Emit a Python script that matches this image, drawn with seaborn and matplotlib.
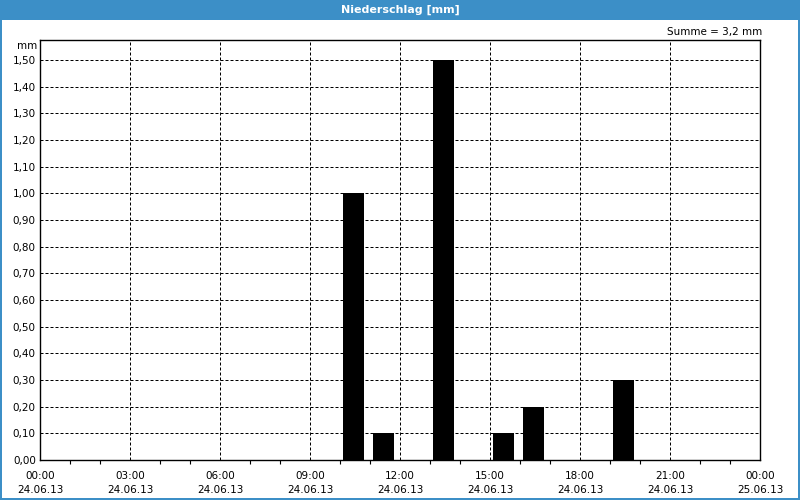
import numpy as np
import pandas as pd
import matplotlib
matplotlib.use("Agg")
import matplotlib.pyplot as plt
from matplotlib.patches import Rectangle
from matplotlib.ticker import FuncFormatter, MultipleLocator
import seaborn as sns

# ---- data ----
hours = [10, 11, 13, 15, 16, 19]          # start hour of each hourly interval
values = [1.00, 0.10, 1.50, 0.10, 0.20, 0.30]  # precipitation in mm
tick_hours = [0, 3, 6, 9, 12, 15, 18, 21, 24]
tick_times = ["00:00", "03:00", "06:00", "09:00", "12:00", "15:00", "18:00", "21:00", "00:00"]
tick_dates = ["24.06.13"] * 8 + ["25.06.13"]
y_ticks = [0.0, 0.1, 0.2, 0.3, 0.4, 0.5, 0.6, 0.7, 0.8, 0.9, 1.0, 1.1, 1.2, 1.3, 1.4, 1.5]
title = "Niederschlag [mm]"
summe_text = "Summe = 3,2 mm"
unit = "mm"

sns.set_theme(style="white")
plt.rcParams['font.family'] = ['DejaVu Sans']
plt.rcParams['font.size'] = 7.5

df = pd.DataFrame({"t": np.array(hours) + 0.5, "mm": values})

fig = plt.figure(figsize=(8, 5), dpi=100, facecolor="white")
ax = fig.add_axes([0.05, 0.08, 0.90, 0.84])
ax.set_facecolor("white")

sns.histplot(data=df, x="t", weights="mm", binwidth=1, binrange=(-0.06, 23.94),
             shrink=0.7, color="black", alpha=1.0, linewidth=0, ax=ax)

ax.set_xlim(0, 24)
ax.set_ylim(0, 1.575)
ax.set_xlabel("")
ax.set_ylabel("")

ax.set_xticks(tick_hours)
ax.set_xticklabels([f"{t}\n{d}" for t, d in zip(tick_times, tick_dates)],
                   fontsize=7.5, linespacing=1.5)
ax.xaxis.set_minor_locator(MultipleLocator(1))
ax.set_yticks(y_ticks)
ax.yaxis.set_major_formatter(FuncFormatter(lambda v, p: f"{v:.2f}".replace(".", ",")))
ax.tick_params(axis="y", which="major", length=0, pad=3, labelsize=7.5, colors="black")
ax.tick_params(axis="x", which="major", length=0, pad=8, labelsize=7.5, colors="black")
ax.tick_params(axis="x", which="minor", bottom=True, length=3, width=0.8, color="black", direction="out")

ax.grid(True, which="major", color="black", linestyle=(0, (3, 2)), linewidth=0.72)
ax.set_axisbelow(True)
for s in ax.spines.values():
    s.set_visible(True)
    s.set_color("black")
    s.set_linewidth(1.0)

# unit and summary text
ax.text(-3 / 720, 0.986, unit, transform=ax.transAxes, ha="right", va="center", fontsize=7.5, color="black")
ax.text(1.003, 1.019, summe_text, transform=ax.transAxes, ha="right", va="center", fontsize=7.5, color="black")

# title bar and frame
blue = "#3c8fc7"
fig.patches.append(Rectangle((0, 480 / 500), 1, 20 / 500, transform=fig.transFigure,
                             facecolor=blue, edgecolor="none", zorder=0))
fig.patches.append(Rectangle((0, 0), 2 / 800, 1, transform=fig.transFigure, facecolor=blue, edgecolor="none"))
fig.patches.append(Rectangle((1 - 2 / 800, 0), 2 / 800, 1, transform=fig.transFigure, facecolor=blue, edgecolor="none"))
fig.patches.append(Rectangle((0, 0), 1, 2 / 500, transform=fig.transFigure, facecolor=blue, edgecolor="none"))
fig.text(0.5, 490 / 500, title, ha="center", va="center", color="white", fontsize=8, fontweight="bold")

fig.savefig("out.png", dpi=100, facecolor="white")
